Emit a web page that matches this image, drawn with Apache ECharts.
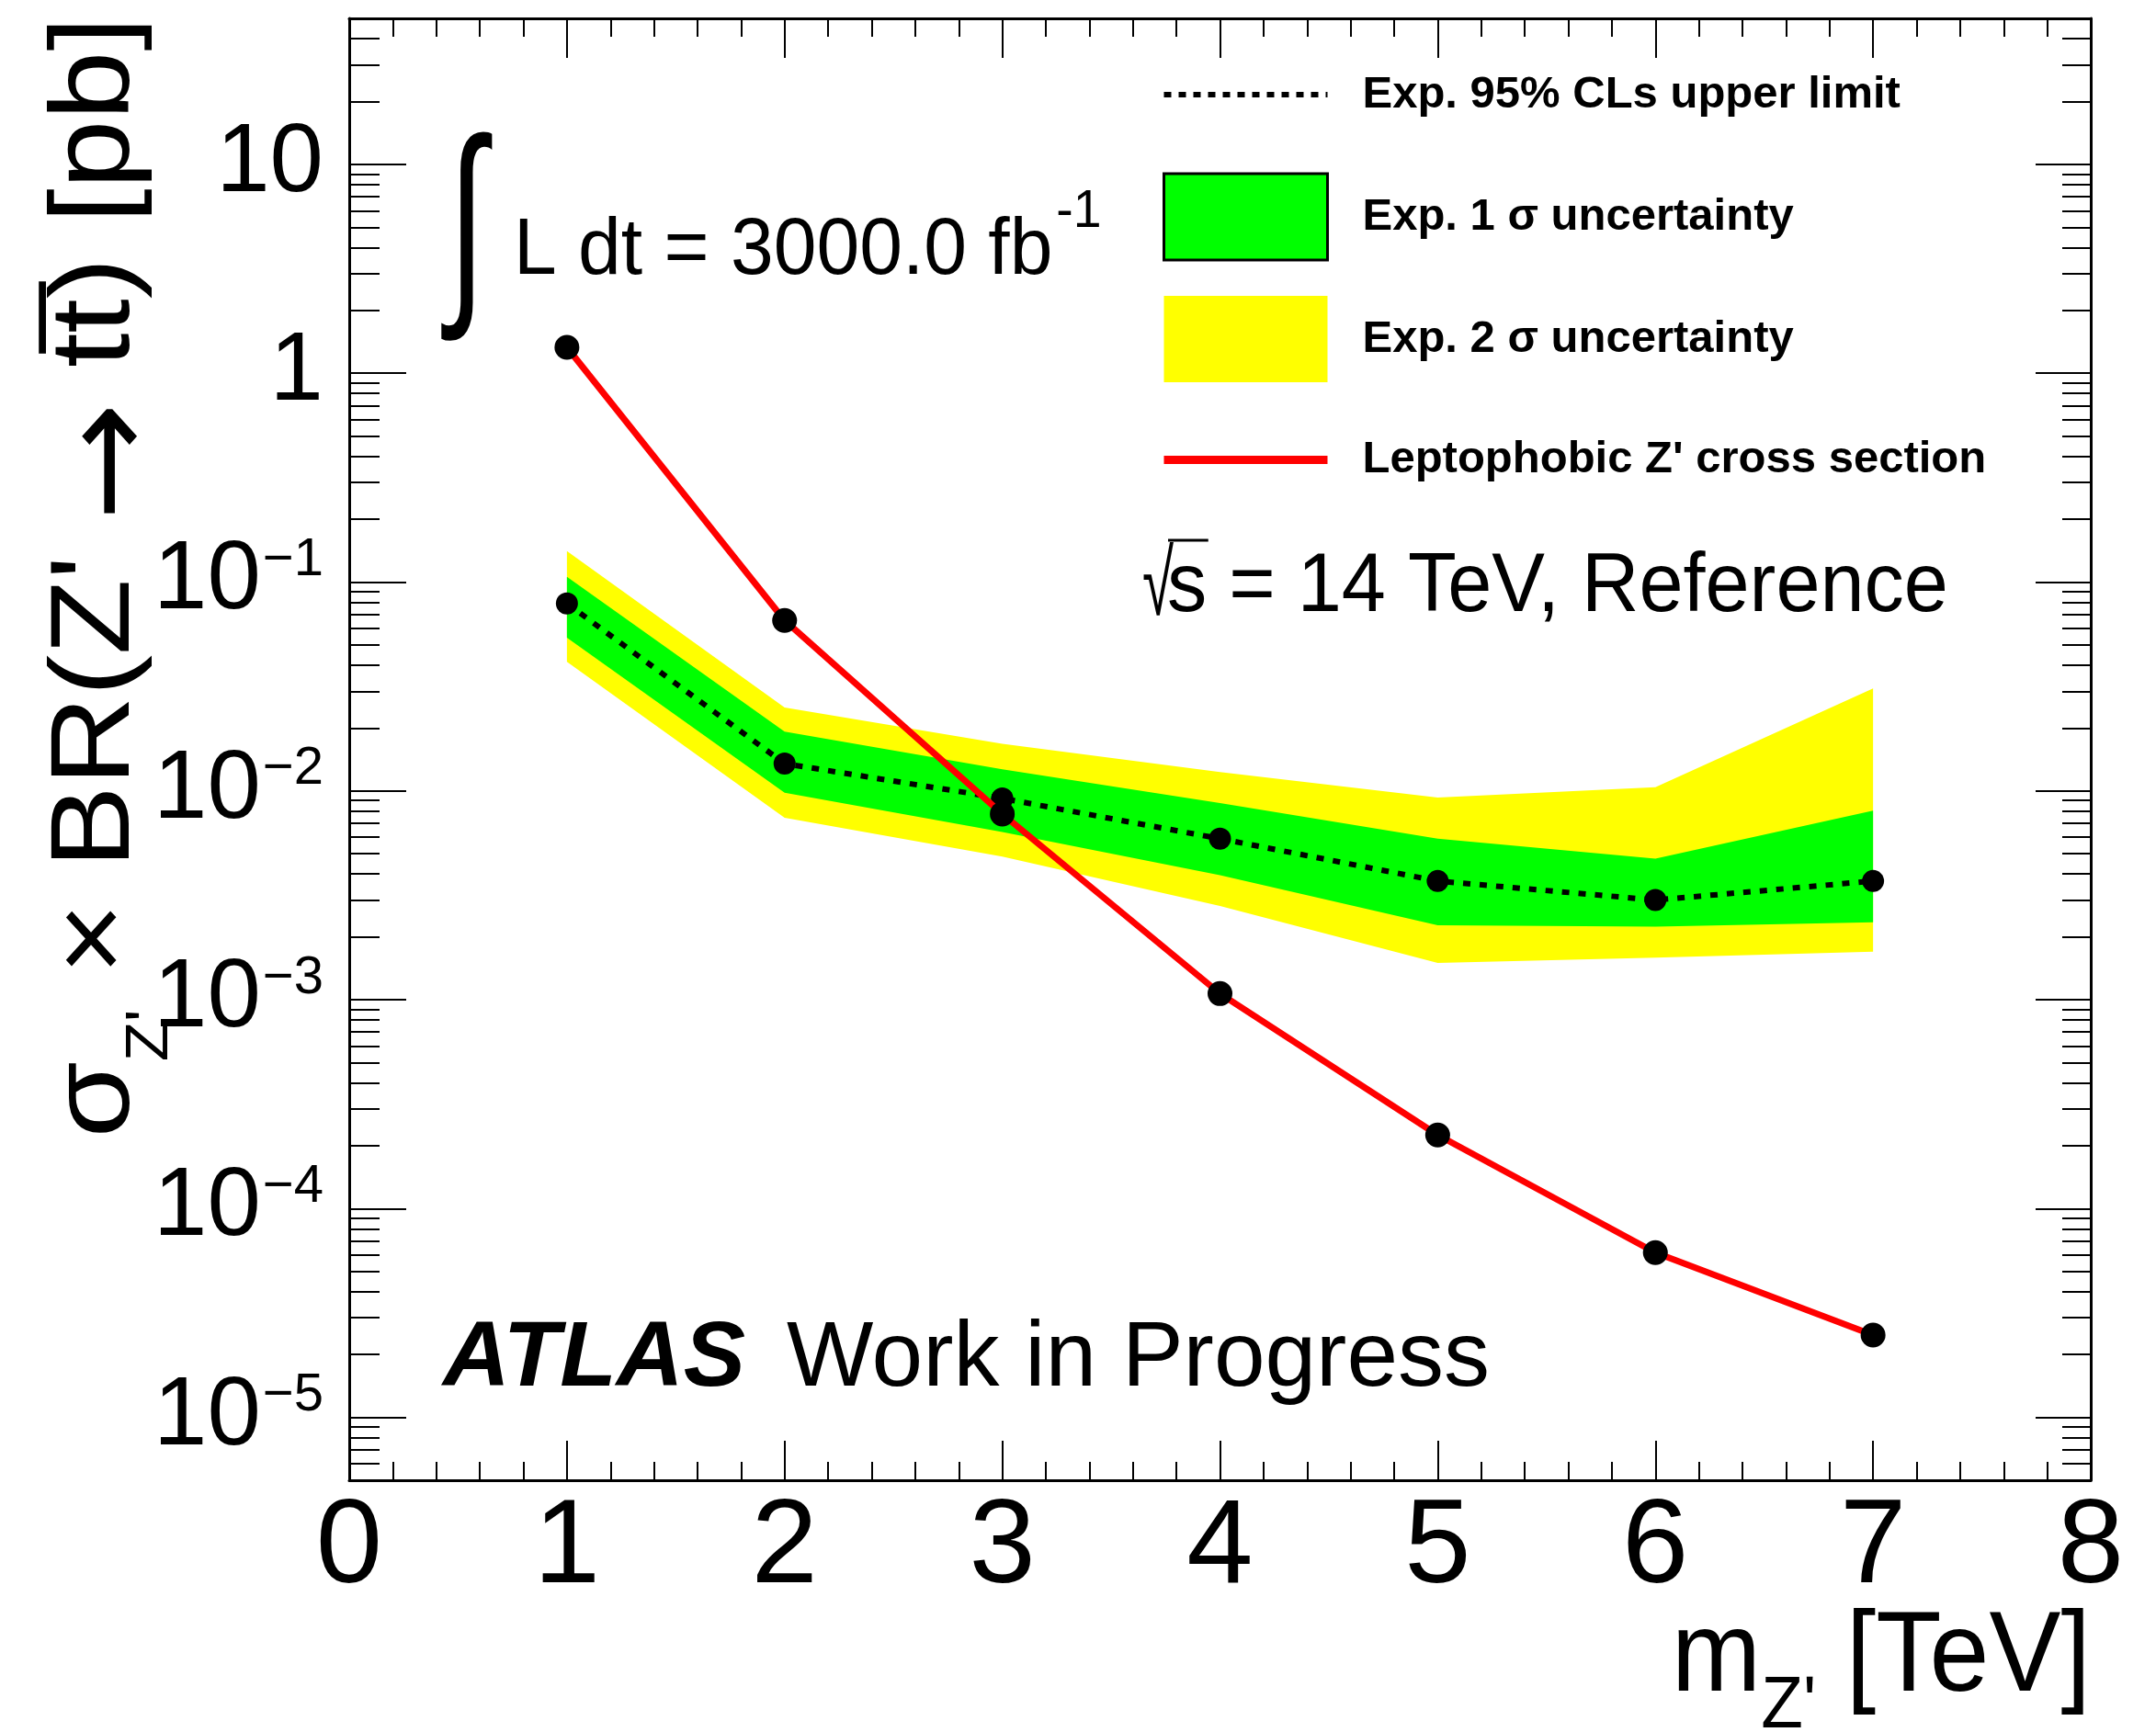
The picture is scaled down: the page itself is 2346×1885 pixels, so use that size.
<!DOCTYPE html>
<html>
<head>
<meta charset="utf-8">
<title>Z' to ttbar expected limits</title>
<script src="https://cdn.jsdelivr.net/npm/echarts@6/dist/echarts.min.js"></script>
<style>
  html, body { margin: 0; padding: 0; background: #ffffff; }
  #chart { width: 2346px; height: 1885px; }
</style>
</head>
<body>
<div id="chart"></div>
<script>
// Expected 95% CLs limits on sigma x BR(Z' -> ttbar), HL-LHC 3000 fb^-1, 14 TeV
const massTeV        = [1, 2, 3, 4, 5, 6, 7];
const xsecZprime     = [1.33, 0.0655, 0.00775, 0.00107, 0.000225, 0.0000615, 0.0000248];
const expLimit       = [0.079, 0.0135, 0.0092, 0.0059, 0.0037, 0.0030, 0.0037];
const exp1SigmaLow   = [0.0542, 0.0098, 0.00635, 0.00395, 0.00227, 0.00224, 0.00235];
const exp1SigmaHigh  = [0.106, 0.0192, 0.0127, 0.00875, 0.0059, 0.00474, 0.00805];
const exp2SigmaLow   = [0.0415, 0.00743, 0.00484, 0.00281, 0.0015, 0.00159, 0.0017];
const exp2SigmaHigh  = [0.1406, 0.0251, 0.0168, 0.0123, 0.0093, 0.0104, 0.0309];

// axis ranges and tick values
const xRange = [0, 8];
const yRange = [5e-6, 50];
const yDecadeTicks = [1e-5, 1e-4, 1e-3, 1e-2, 1e-1, 1, 10];

// legend entries
const nameLimit = 'Exp. 95% CLs upper limit';
const name1Sigma = 'Exp. 1 \u03c3 uncertainty';
const name2Sigma = 'Exp. 2 \u03c3 uncertainty';
const nameXsec = "Leptophobic Z' cross section";

const FONT = '"Liberation Sans", Arial, Helvetica, sans-serif';

// minor log ticks: 2..9 x 10^n inside the y range
const yMinorTicks = [];
for (let e = -6; e <= 1; e++) {
  for (let k = 2; k <= 9; k++) {
    const v = k * Math.pow(10, e);
    if (v > yRange[0] && v < yRange[1]) yMinorTicks.push(v);
  }
}

function yLabel(v) {
  const e = Math.round(Math.log10(v));
  if (e === 1) return '{b|10}';
  if (e === 0) return '{b|1}';
  return '{b|10}{s|' + (e < 0 ? '\u2212' + (-e) : String(e)) + '}';
}

// filled uncertainty band drawn as a single polygon through the axis scales
function bandSeries(name, low, high, color, z) {
  return {
    type: 'custom',
    name: name,
    z: z,
    silent: true,
    clip: true,
    coordinateSystem: 'cartesian2d',
    xAxisIndex: 0,
    yAxisIndex: 0,
    itemStyle: { color: color },
    data: massTeV.map((m, i) => [m, low[i], high[i]]),
    encode: { x: 0, y: [1, 2] },
    renderItem: function (params, api) {
      if (params.dataIndex !== 0) return null;
      const upper = [], lower = [];
      for (let i = 0; i < massTeV.length; i++) {
        upper.push(api.coord([massTeV[i], high[i]]));
        lower.push(api.coord([massTeV[i], low[i]]));
      }
      return {
        type: 'polygon',
        shape: { points: upper.concat(lower.reverse()) },
        style: { fill: color, stroke: null, lineWidth: 0 }
      };
    }
  };
}

const axisLineStyle = { color: '#000', width: 3 };
const tickLineStyle = { color: '#000', width: 2 };

function xAxisDef(position, withLabels) {
  return {
    type: 'value', position: position, min: xRange[0], max: xRange[1], interval: 1,
    axisLine: { show: true, onZero: false, lineStyle: axisLineStyle },
    axisTick: { show: true, inside: true, length: 43, lineStyle: tickLineStyle },
    minorTick: { show: true, splitNumber: 5, length: 20, lineStyle: tickLineStyle },
    axisLabel: {
      show: withLabels, margin: 10, fontSize: 130, fontFamily: FONT, color: '#000',
      showMinLabel: true, showMaxLabel: true, hideOverlap: false
    },
    splitLine: { show: false }, minorSplitLine: { show: false }
  };
}

function yAxisDef(position, ticks, tickLen, withLine, withLabels) {
  const ax = {
    type: 'log', logBase: 10, position: position, min: yRange[0], max: yRange[1],
    axisLine: { show: withLine, onZero: false, lineStyle: axisLineStyle },
    axisTick: { show: true, inside: true, length: tickLen, customValues: ticks, lineStyle: tickLineStyle },
    minorTick: { show: false },
    axisLabel: { show: false },
    splitLine: { show: false }
  };
  if (withLabels) {
    ax.axisLabel = {
      show: true, customValues: yDecadeTicks, margin: 28, color: '#000',
      formatter: yLabel,
      rich: {
        b: { fontSize: 105, lineHeight: 105, fontFamily: FONT, color: '#000', verticalAlign: 'bottom' },
        s: { fontSize: 58, lineHeight: 58, fontFamily: FONT, color: '#000', verticalAlign: 'top', padding: [0, 0, 54, 2] }
      }
    };
  }
  return ax;
}

// text measurement for the radical bar
const measureCtx = document.createElement('canvas').getContext('2d');
function textWidth(str, font) { measureCtx.font = font; return measureCtx.measureText(str).width; }

const squeeze = 0.95;
const sqrtFont = '90px ' + FONT;
const sX = 1270;
const sW = textWidth('s', sqrtFont) * squeeze;

const graphics = [
  // integral sign
  { type: 'text', x: 508, y: 254, scaleX: 0.62, silent: true,
    style: { text: '\u222b', font: '240px ' + FONT, fill: '#000', align: 'center', verticalAlign: 'middle' } },
  // integrated luminosity
  { type: 'text', x: 559, y: 193, scaleX: 0.955, silent: true,
    style: {
      text: '{m|L dt = 3000.0 fb}{s|-1}', align: 'left', verticalAlign: 'top', fill: '#000',
      rich: {
        m: { fontSize: 88, lineHeight: 88, fontFamily: FONT, color: '#000', verticalAlign: 'top', padding: [37, 0, 0, 0] },
        s: { fontSize: 58, lineHeight: 58, fontFamily: FONT, color: '#000', verticalAlign: 'top', padding: [9, 0, 0, 4] }
      }
    } },
  // centre-of-mass energy
  { type: 'text', x: 1243, y: 676 - 0.3465 * 100, scaleX: 0.62, silent: true,
    style: { text: '\u221a', font: '100px ' + FONT, fill: '#000', align: 'left', verticalAlign: 'middle' } },
  { type: 'line', silent: true,
    shape: { x1: sX + 1, y1: 588, x2: sX + sW + 2, y2: 588 },
    style: { stroke: '#000', lineWidth: 3 } },
  { type: 'text', x: sX, y: 671 - 0.3465 * 91, scaleX: squeeze, silent: true,
    style: { text: 's = 14 TeV, Reference', font: '91px ' + FONT, fill: '#000', align: 'left', verticalAlign: 'middle' } },
  // experiment label
  { type: 'text', x: 482, y: 1515 - 0.3465 * 101, silent: true,
    style: { text: 'ATLAS', font: 'italic bold 101px ' + FONT, fill: '#000', align: 'left', verticalAlign: 'middle' } },
  { type: 'text', x: 856, y: 1515 - 0.3465 * 100, silent: true,
    style: { text: 'Work in Progress', font: '100px ' + FONT, fill: '#000', align: 'left', verticalAlign: 'middle' } },
  // x-axis title
  { type: 'text', x: 2275, y: 1743, scaleX: 0.935, silent: true,
    style: {
      text: "{m|m}{s|Z'}{m| [TeV]}", align: 'right', verticalAlign: 'top', fill: '#000',
      rich: {
        m: { fontSize: 125, lineHeight: 125, fontFamily: FONT, color: '#000', verticalAlign: 'top' },
        s: { fontSize: 80, lineHeight: 80, fontFamily: FONT, color: '#000', verticalAlign: 'top', padding: [75, 0, 0, 0] }
      }
    } },
  // y-axis title (reads bottom to top)
  { type: 'text', x: 45, y: 18, rotation: Math.PI / 2, scaleX: 1.105, silent: true,
    style: {
      text: "{m|\u03c3}{s|Z'}{m| \u00d7 BR(Z' }{a|\u2192}{m| tt\u0305) [pb]}", align: 'right', verticalAlign: 'top', fill: '#000',
      rich: {
        m: { fontSize: 122, lineHeight: 122, fontFamily: FONT, color: '#000', verticalAlign: 'top' },
        a: { fontSize: 140, lineHeight: 122, fontFamily: '"DejaVu Sans", sans-serif', color: '#000', verticalAlign: 'top', padding: [12, 0, 0, 0] },
        s: { fontSize: 64, lineHeight: 64, fontFamily: FONT, color: '#000', verticalAlign: 'top', padding: [87, 0, 0, 0] }
      }
    } }
];

const option = {
  animation: false,
  backgroundColor: '#ffffff',
  grid: { left: 380, right: 71, top: 20, bottom: 274, containLabel: false, outerBoundsMode: 'none' },
  xAxis: [ xAxisDef('bottom', true), xAxisDef('top', false) ],
  yAxis: [
    yAxisDef('left', yDecadeTicks, 62, true, true),
    yAxisDef('left', yMinorTicks, 33, false, false),
    yAxisDef('right', yDecadeTicks, 60, true, false),
    yAxisDef('right', yMinorTicks, 31, false, false)
  ],
  legend: {
    orient: 'vertical', left: 1262, top: 56, padding: 0,
    itemWidth: 178, itemHeight: 94, itemGap: 37.5,
    selectedMode: false,
    textStyle: { fontFamily: FONT, fontSize: 49, lineHeight: 94, fontWeight: 'bold', color: '#000', padding: [0, 0, 0, 33] },
    data: [
      { name: nameLimit, itemStyle: { opacity: 0 }, lineStyle: { width: 6, type: [8, 8], color: '#000' } },
      { name: name1Sigma, icon: 'rect', itemStyle: { color: '#00ff00', borderColor: '#000', borderWidth: 3 } },
      { name: name2Sigma, icon: 'rect', itemStyle: { color: '#ffff00', borderWidth: 0 } },
      { name: nameXsec, itemStyle: { opacity: 0 }, lineStyle: { width: 9, color: '#ff0000' } }
    ]
  },
  series: [
    bandSeries(name2Sigma, exp2SigmaLow, exp2SigmaHigh, '#ffff00', 1),
    bandSeries(name1Sigma, exp1SigmaLow, exp1SigmaHigh, '#00ff00', 2),
    {
      type: 'line', name: nameLimit, z: 3, silent: true,
      data: massTeV.map((m, i) => [m, expLimit[i]]),
      symbol: 'circle', symbolSize: 24, showAllSymbol: true,
      itemStyle: { color: '#000' },
      lineStyle: { color: '#000', width: 6, type: [8, 10], cap: 'butt' }
    },
    {
      type: 'line', name: nameXsec, z: 4, silent: true,
      data: massTeV.map((m, i) => [m, xsecZprime[i]]),
      symbol: 'circle', symbolSize: 27, showAllSymbol: true,
      itemStyle: { color: '#000' },
      lineStyle: { color: '#ff0000', width: 7 }
    }
  ],
  graphic: { elements: graphics }
};

const chart = echarts.init(document.getElementById('chart'), null, { renderer: 'canvas', width: 2346, height: 1885 });
chart.setOption(option);
</script>
</body>
</html>
